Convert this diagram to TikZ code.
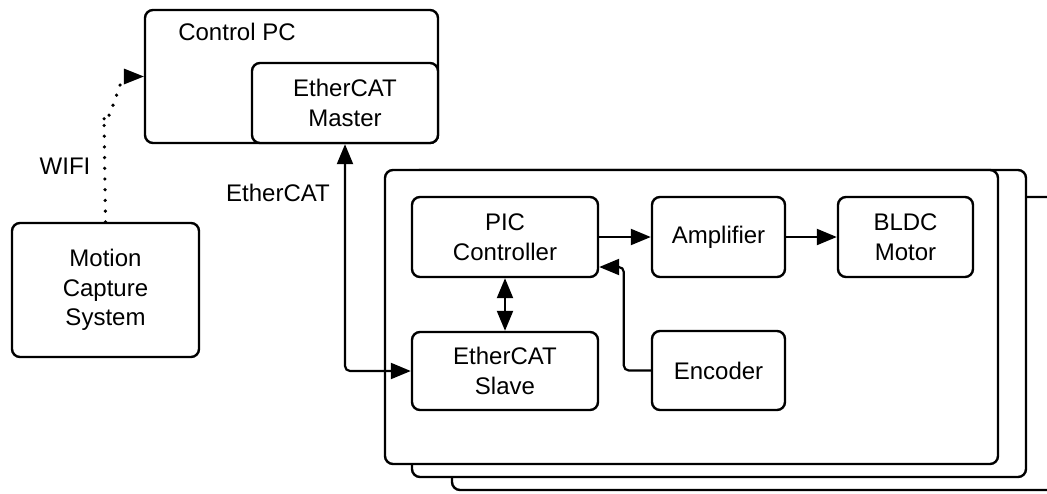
\documentclass[tikz,border=0pt]{standalone}
\usepackage{fontspec}
\setmainfont{Liberation Sans}
\usetikzlibrary{arrows.meta,calc}

\tikzset{
  box/.style={draw, line width=2.4pt, rounded corners=8pt, fill=white,
    inner sep=0pt, align=center, font=\fontsize{24}{29.5}\selectfont},
  label/.style={inner sep=0pt, font=\fontsize{24}{29.5}\selectfont},
  link/.style={line width=2.2pt, rounded corners=5pt,
    -{Triangle[length=20pt,width=16pt]}},
  dlink/.style={line width=2.2pt, rounded corners=5pt,
    {Triangle[length=20pt,width=16pt]}-{Triangle[length=20pt,width=16pt]}},
  wireless/.style={line width=3.6pt, line cap=round,
    dash pattern=on 0pt off 10.7pt,
    -{Triangle[length=20pt,width=16pt,line cap=butt,line width=0pt]}}
}

\begin{document}
\begin{tikzpicture}[x=1pt,y=-1pt]
  \useasboundingbox (0,0) rectangle (1047,493);
  \clip (0,0) rectangle (1047,493);

  % PC side
  \node[box, minimum width=293pt, minimum height=133pt] (ctrl) at (291.5,76.5) {};
  \node[label] (ctrltxt) at (237,32) {Control PC};
  \node[box, minimum width=186pt, minimum height=80pt] (master) at (345,103) {EtherCAT\\Master};

  \node[box, minimum width=187pt, minimum height=134pt] (mocap) at (105.5,290) {Motion\\Capture\\System};

  % stack of joint boards, back to front
  \node[box, minimum width=620pt, minimum height=293pt] (board3) at (762,343.5) {};
  \node[box, minimum width=614pt, minimum height=307pt] (board2) at (719,323.5) {};
  \node[box, minimum width=613pt, minimum height=294pt] (board1) at (691.5,317) {};

  % blocks on the front board
  \node[box, minimum width=186pt, minimum height=80pt] (pic) at (505,237) {PIC\\Controller};
  \node[box, minimum width=186pt, minimum height=78pt] (slave) at (505,371) {EtherCAT\\Slave};
  \node[box, minimum width=133pt, minimum height=80pt] (amp) at (718.5,237) {Amplifier};
  \node[box, minimum width=135pt, minimum height=80pt] (bldc) at (905.5,237) {BLDC\\Motor};
  \node[box, minimum width=133pt, minimum height=79pt] (enc) at (718.5,370.5) {Encoder};

  % connections
  \draw[link] (pic.east) -- (amp.west);
  \draw[link] (amp.east) -- (bldc.west);
  \draw[link] (enc.west) -- ++(-27,0) |- ($(pic.east)+(0,30)$);
  \draw[dlink] (pic.south) -- (slave.north);
  \draw[dlink] (master.south) |- (slave.west);
  \draw[wireless] (mocap.north) -- ++(-1.5,-105) to[out=-90,in=180] (ctrl.west);

  \node[label] (wifi) at (65,166) {WIFI};
  \node[label] (ecat) at (278,193) {EtherCAT};
\end{tikzpicture}
\end{document}
